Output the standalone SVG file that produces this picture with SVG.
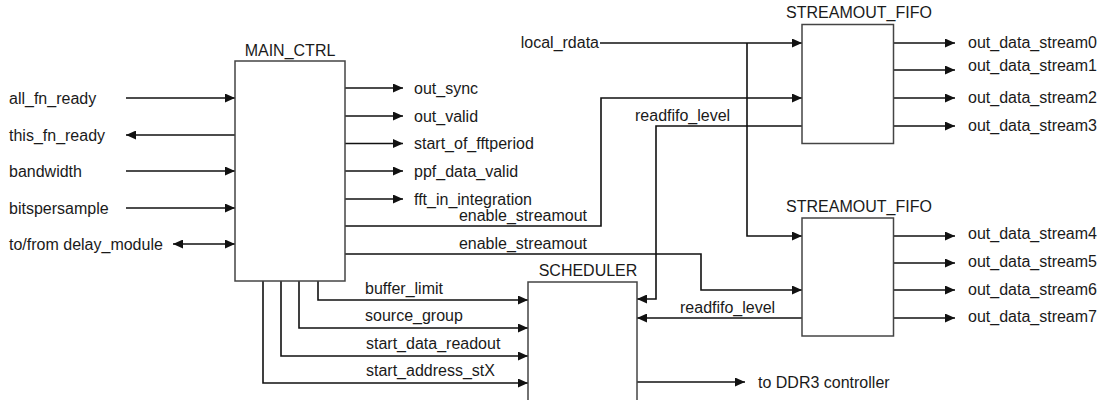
<svg xmlns="http://www.w3.org/2000/svg" width="1101" height="400" viewBox="0 0 1101 400">
<style>
text{font-family:"Liberation Sans",Arial,sans-serif;font-size:16px;fill:#1a1a1a}
.box{fill:#fff;stroke:#444;stroke-width:1.5}
.c{fill:none;stroke:#111;stroke-width:1.6}
.a{marker-end:url(#ah)}
.m{text-anchor:middle}
.e{text-anchor:end}
</style>
<defs>
<marker id="ah" markerUnits="userSpaceOnUse" markerWidth="10" markerHeight="9" refX="10" refY="4.5" orient="auto">
<path d="M0,0 L10,4.5 L0,9 z" fill="#111"/>
</marker>
<marker id="as" markerUnits="userSpaceOnUse" markerWidth="10" markerHeight="9" refX="0" refY="4.5" orient="auto">
<path d="M10,0 L0,4.5 L10,9 z" fill="#111"/>
</marker>
</defs>
<rect width="1101" height="400" fill="#fff"/>

<g id="connectors">
<path class="c a" d="M126,98 H235"/>
<path class="c a" d="M235,135 H126"/>
<path class="c a" d="M126,171 H235"/>
<path class="c a" d="M126,208 H235"/>
<path class="c a" d="M173,244 H235" marker-start="url(#as)"/>
<path class="c a" d="M345,88 H403"/>
<path class="c a" d="M345,116 H403"/>
<path class="c a" d="M345,143.5 H403"/>
<path class="c a" d="M345,171 H403"/>
<path class="c a" d="M345,199 H403"/>
<path class="c a" d="M345,226 H601 V98 H802"/>
<path class="c a" d="M345,254 H701 V290 H802"/>
<path class="c a" d="M600,43 H802"/>
<path class="c a" d="M747,43 V236 H802"/>
<path class="c a" d="M802,126 H656 V299 H637"/>
<path class="c a" d="M802,318 H637"/>
<path class="c a" d="M893,43 H955"/>
<path class="c a" d="M893,70 H955"/>
<path class="c a" d="M893,98 H955"/>
<path class="c a" d="M893,126 H955"/>
<path class="c a" d="M893,236 H955"/>
<path class="c a" d="M893,263 H955"/>
<path class="c a" d="M893,290 H955"/>
<path class="c a" d="M893,318 H955"/>
<path class="c a" d="M318,281 V300 H528"/>
<path class="c a" d="M299,281 V328 H528"/>
<path class="c a" d="M281,281 V356 H528"/>
<path class="c a" d="M263,281 V383 H528"/>
<path class="c a" d="M637,382 H745"/>
</g>

<g id="main_ctrl">
<rect class="box" x="235" y="61" width="110" height="220"/>
<text class="m" x="290" y="56">MAIN_CTRL</text>
</g>
<g id="fifo1">
<rect class="box" x="802" y="24.5" width="91.5" height="119"/>
<text class="m" x="859" y="18">STREAMOUT_FIFO</text>
</g>
<g id="fifo2">
<rect class="box" x="802" y="218" width="91.5" height="118"/>
<text class="m" x="859" y="212">STREAMOUT_FIFO</text>
</g>
<g id="scheduler">
<rect class="box" x="528" y="282" width="109" height="125"/>
<text class="m" x="588" y="276">SCHEDULER</text>
</g>

<g id="labels">
<text x="9" y="104">all_fn_ready</text>
<text x="9" y="141">this_fn_ready</text>
<text x="9" y="177">bandwidth</text>
<text x="9" y="214">bitspersample</text>
<text x="9" y="250">to/from delay_module</text>
<text x="414" y="94">out_sync</text>
<text x="414" y="122">out_valid</text>
<text x="414" y="149">start_of_fftperiod</text>
<text x="414" y="177">ppf_data_valid</text>
<text x="414" y="205">fft_in_integration</text>
<text class="e" x="587" y="221">enable_streamout</text>
<text class="e" x="587" y="249">enable_streamout</text>
<text class="e" x="599" y="48">local_rdata</text>
<text x="635" y="121">readfifo_level</text>
<text x="680" y="313">readfifo_level</text>
<text x="968" y="48">out_data_stream0</text>
<text x="968" y="71">out_data_stream1</text>
<text x="968" y="103">out_data_stream2</text>
<text x="968" y="131">out_data_stream3</text>
<text x="968" y="239">out_data_stream4</text>
<text x="968" y="267">out_data_stream5</text>
<text x="968" y="295">out_data_stream6</text>
<text x="968" y="322">out_data_stream7</text>
<text x="365" y="294">buffer_limit</text>
<text x="365" y="321">source_group</text>
<text x="366" y="349">start_data_readout</text>
<text x="366" y="376">start_address_stX</text>
<text x="758" y="388">to DDR3 controller</text>
</g>
</svg>
